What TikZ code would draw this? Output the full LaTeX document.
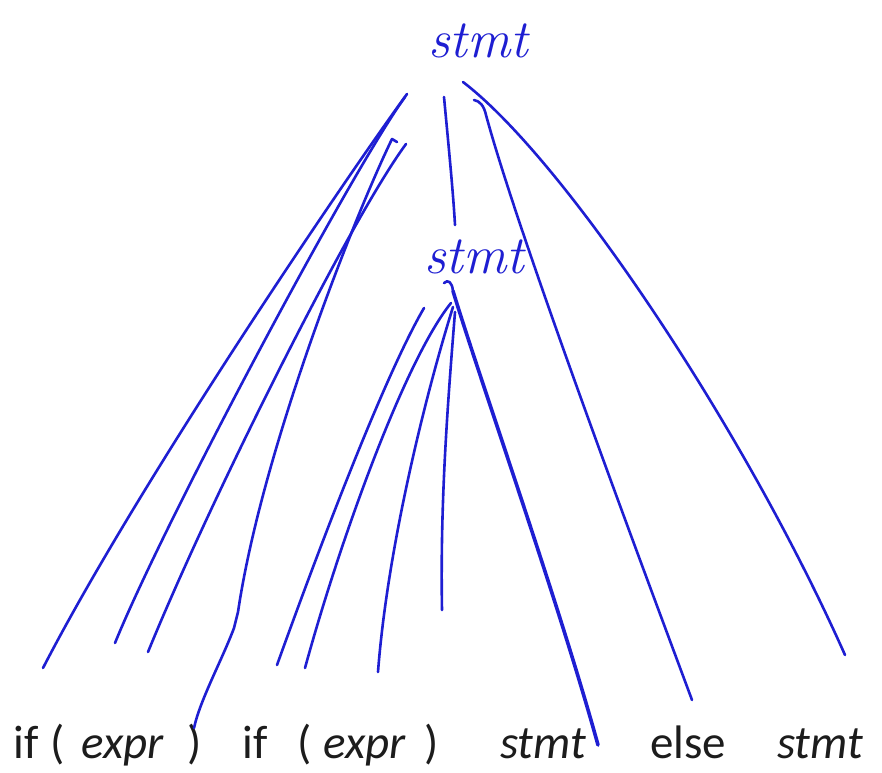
\documentclass[tikz,border=0pt]{standalone}
\usepackage{fontspec}
\newfontfamily\calib{Carlito}
\definecolor{ink}{RGB}{30,30,210}
\definecolor{txt}{RGB}{28,28,28}
\begin{document}
\begin{tikzpicture}[x=1pt,y=-1pt,
  inkline/.style={draw=ink,line width=2.6pt,line cap=round,line join=round},
  boldink/.style={inkline,line width=3.6pt},
  tok/.style={text=txt,anchor=base,inner sep=0pt,font=\calib\fontsize{47}{50}\selectfont},
  itok/.style={text=txt,anchor=base,inner sep=0pt,font=\calib\fontsize{47}{50}\selectfont\itshape},
  hand/.style={text=ink,anchor=base,inner sep=0pt,font=\fontsize{54}{56}\selectfont\itshape}]
\fill[white] (0,0) rectangle (882,772);
\useasboundingbox (0,0) rectangle (882,772);

% handwritten nonterminals
\node[hand] (top) at (478,57) {stmt};
\node[hand] (mid) at (474,273) {stmt};

% leaves
\node[tok]  (if1)   at (26,758)  {if};
\node[tok]  (lp1)   at (58,758)  {(};
\node[itok] (expr1) at (123,758) {expr};
\node[tok]  (rp1)   at (195,758) {)};
\node[tok]  (if2)   at (255,758) {if};
\node[tok]  (lp2)   at (305,758) {(};
\node[itok] (expr2) at (365,758) {expr};
\node[tok]  (rp2)   at (432,758) {)};
\node[itok] (st1)   at (543,758) {stmt};
\node[tok]  (else)  at (688,758) {else};
\node[itok] (st2)   at (820,758) {stmt};

% line end points
\coordinate (a1) at (407,94);  \coordinate (b1) at (43,668);
\coordinate (a2) at (405,97);  \coordinate (b2) at (115,643);
\coordinate (a3) at (406,144); \coordinate (b3) at (148,652);
\coordinate (a4) at (392,139); \coordinate (b4) at (194,728);
\coordinate (a5) at (444,97);  \coordinate (b5) at (455,225);
\coordinate (a6) at (474,100); \coordinate (b6) at (692,700);
\coordinate (a7) at (463,82);  \coordinate (b7) at (845,655);
\coordinate (m1) at (424,308); \coordinate (n1) at (277,665);
\coordinate (m2) at (451,303); \coordinate (n2) at (305,668);
\coordinate (m3) at (453,307); \coordinate (n3) at (378,672);
\coordinate (m4) at (455,312); \coordinate (n4) at (442,610);
\coordinate (m5) at (453,291); \coordinate (n5) at (598,745);

% children of the top stmt
\draw[inkline] (a1) .. controls (350,172) and (140,480) .. (b1);
\draw[inkline] (a2) .. controls (352,170) and (165,520) .. (b2);
\draw[inkline] (a3) .. controls (350,220) and (210,500) .. (b3);
\draw[inkline] (397,142) -- (a4) .. controls (355,215) and (262,450) .. (238,612)
   -- (234,628) .. controls (222,660) and (200,700) .. (b4);
\draw[inkline] (a5) .. controls (448,140) and (453,190) .. (b5);
\draw[inkline] (a6) .. controls (480,101) and (484,106) .. (486,115)
   .. controls (520,240) and (640,560) .. (b6);
\draw[inkline] (a7) .. controls (565,160) and (745,430) .. (b7);

% children of the inner stmt
\draw[inkline] (444,283) .. controls (448,279) and (452,282) .. (m5);
\draw[inkline] (m1) .. controls (385,375) and (322,540) .. (n1);
\draw[inkline] (m2) .. controls (405,360) and (340,540) .. (n2);
\draw[inkline] (m3) .. controls (430,380) and (388,540) .. (n3);
\draw[inkline] (m4) .. controls (448,400) and (440,500) .. (n4);
\draw[boldink] (m5) .. controls (480,380) and (558,600) .. (n5);
\end{tikzpicture}
\end{document}
